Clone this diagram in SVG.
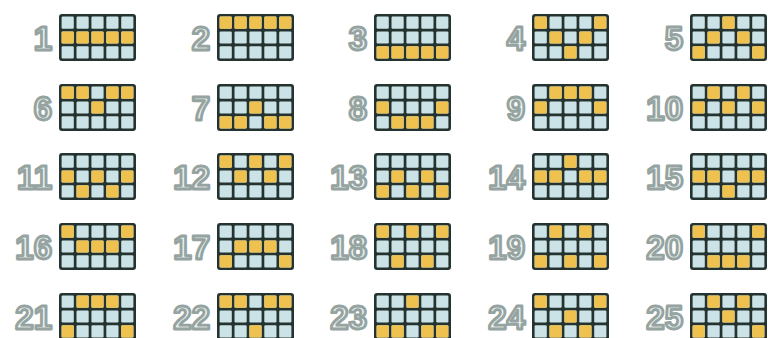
<svg xmlns="http://www.w3.org/2000/svg" xmlns:xlink="http://www.w3.org/1999/xlink" width="768" height="338" viewBox="0 0 768 338">
<style>
.n{font-family:"Liberation Sans",Arial,sans-serif;font-weight:bold;font-size:33px;fill:#eaf2f0;stroke:#95a3a1;stroke-width:2.8;stroke-linejoin:round;text-anchor:end}
.o{fill:#efc14f}
.b{fill:#cbe3e6}
</style>
<defs>
<rect id="c" width="12.2" height="12.1" rx="1.2"/>
<g id="base">
<rect width="77" height="47" rx="3" fill="#24332f"/>
<use href="#c" class="b" x="2.6" y="2.6"/><use href="#c" class="b" x="17.5" y="2.6"/><use href="#c" class="b" x="32.4" y="2.6"/><use href="#c" class="b" x="47.3" y="2.6"/><use href="#c" class="b" x="62.2" y="2.6"/>
<use href="#c" class="b" x="2.6" y="17.45"/><use href="#c" class="b" x="17.5" y="17.45"/><use href="#c" class="b" x="32.4" y="17.45"/><use href="#c" class="b" x="47.3" y="17.45"/><use href="#c" class="b" x="62.2" y="17.45"/>
<use href="#c" class="b" x="2.6" y="32.3"/><use href="#c" class="b" x="17.5" y="32.3"/><use href="#c" class="b" x="32.4" y="32.3"/><use href="#c" class="b" x="47.3" y="32.3"/><use href="#c" class="b" x="62.2" y="32.3"/>
</g>
</defs>
<rect width="768" height="338" fill="#ffffff"/>

<g id="p1"><text class="n" x="52" y="50">1</text><g transform="translate(59,14)"><use href="#base"/>
<use href="#c" class="o" x="2.6" y="17.45"/><use href="#c" class="o" x="17.5" y="17.45"/><use href="#c" class="o" x="32.4" y="17.45"/><use href="#c" class="o" x="47.3" y="17.45"/><use href="#c" class="o" x="62.2" y="17.45"/></g></g>

<g id="p2"><text class="n" x="210" y="50">2</text><g transform="translate(217,14)"><use href="#base"/>
<use href="#c" class="o" x="2.6" y="2.6"/><use href="#c" class="o" x="17.5" y="2.6"/><use href="#c" class="o" x="32.4" y="2.6"/><use href="#c" class="o" x="47.3" y="2.6"/><use href="#c" class="o" x="62.2" y="2.6"/></g></g>

<g id="p3"><text class="n" x="367" y="50">3</text><g transform="translate(374,14)"><use href="#base"/>
<use href="#c" class="o" x="2.6" y="32.3"/><use href="#c" class="o" x="17.5" y="32.3"/><use href="#c" class="o" x="32.4" y="32.3"/><use href="#c" class="o" x="47.3" y="32.3"/><use href="#c" class="o" x="62.2" y="32.3"/></g></g>

<g id="p4"><text class="n" x="525" y="50">4</text><g transform="translate(532,14)"><use href="#base"/>
<use href="#c" class="o" x="2.6" y="2.6"/><use href="#c" class="o" x="62.2" y="2.6"/><use href="#c" class="o" x="17.5" y="17.45"/><use href="#c" class="o" x="47.3" y="17.45"/><use href="#c" class="o" x="32.4" y="32.3"/></g></g>

<g id="p5"><text class="n" x="683" y="50">5</text><g transform="translate(690,14)"><use href="#base"/>
<use href="#c" class="o" x="32.4" y="2.6"/><use href="#c" class="o" x="17.5" y="17.45"/><use href="#c" class="o" x="47.3" y="17.45"/><use href="#c" class="o" x="2.6" y="32.3"/><use href="#c" class="o" x="62.2" y="32.3"/></g></g>

<g id="p6"><text class="n" x="52" y="120">6</text><g transform="translate(59,84)"><use href="#base"/>
<use href="#c" class="o" x="2.6" y="2.6"/><use href="#c" class="o" x="17.5" y="2.6"/><use href="#c" class="o" x="47.3" y="2.6"/><use href="#c" class="o" x="62.2" y="2.6"/><use href="#c" class="o" x="32.4" y="17.45"/></g></g>

<g id="p7"><text class="n" x="210" y="120">7</text><g transform="translate(217,84)"><use href="#base"/>
<use href="#c" class="o" x="32.4" y="17.45"/><use href="#c" class="o" x="2.6" y="32.3"/><use href="#c" class="o" x="17.5" y="32.3"/><use href="#c" class="o" x="47.3" y="32.3"/><use href="#c" class="o" x="62.2" y="32.3"/></g></g>

<g id="p8"><text class="n" x="367" y="120">8</text><g transform="translate(374,84)"><use href="#base"/>
<use href="#c" class="o" x="2.6" y="17.45"/><use href="#c" class="o" x="62.2" y="17.45"/><use href="#c" class="o" x="17.5" y="32.3"/><use href="#c" class="o" x="32.4" y="32.3"/><use href="#c" class="o" x="47.3" y="32.3"/></g></g>

<g id="p9"><text class="n" x="525" y="120">9</text><g transform="translate(532,84)"><use href="#base"/>
<use href="#c" class="o" x="17.5" y="2.6"/><use href="#c" class="o" x="32.4" y="2.6"/><use href="#c" class="o" x="47.3" y="2.6"/><use href="#c" class="o" x="2.6" y="17.45"/><use href="#c" class="o" x="62.2" y="17.45"/></g></g>

<g id="p10"><text class="n" x="683" y="120">10</text><g transform="translate(690,84)"><use href="#base"/>
<use href="#c" class="o" x="17.5" y="2.6"/><use href="#c" class="o" x="47.3" y="2.6"/><use href="#c" class="o" x="2.6" y="17.45"/><use href="#c" class="o" x="32.4" y="17.45"/><use href="#c" class="o" x="62.2" y="17.45"/></g></g>

<g id="p11"><text class="n" x="52" y="189">11</text><g transform="translate(59,153)"><use href="#base"/>
<use href="#c" class="o" x="2.6" y="17.45"/><use href="#c" class="o" x="32.4" y="17.45"/><use href="#c" class="o" x="62.2" y="17.45"/><use href="#c" class="o" x="17.5" y="32.3"/><use href="#c" class="o" x="47.3" y="32.3"/></g></g>

<g id="p12"><text class="n" x="210" y="189">12</text><g transform="translate(217,153)"><use href="#base"/>
<use href="#c" class="o" x="2.6" y="2.6"/><use href="#c" class="o" x="32.4" y="2.6"/><use href="#c" class="o" x="62.2" y="2.6"/><use href="#c" class="o" x="17.5" y="17.45"/><use href="#c" class="o" x="47.3" y="17.45"/></g></g>

<g id="p13"><text class="n" x="367" y="189">13</text><g transform="translate(374,153)"><use href="#base"/>
<use href="#c" class="o" x="17.5" y="17.45"/><use href="#c" class="o" x="47.3" y="17.45"/><use href="#c" class="o" x="2.6" y="32.3"/><use href="#c" class="o" x="32.4" y="32.3"/><use href="#c" class="o" x="62.2" y="32.3"/></g></g>

<g id="p14"><text class="n" x="525" y="189">14</text><g transform="translate(532,153)"><use href="#base"/>
<use href="#c" class="o" x="32.4" y="2.6"/><use href="#c" class="o" x="2.6" y="17.45"/><use href="#c" class="o" x="17.5" y="17.45"/><use href="#c" class="o" x="47.3" y="17.45"/><use href="#c" class="o" x="62.2" y="17.45"/></g></g>

<g id="p15"><text class="n" x="683" y="189">15</text><g transform="translate(690,153)"><use href="#base"/>
<use href="#c" class="o" x="2.6" y="17.45"/><use href="#c" class="o" x="17.5" y="17.45"/><use href="#c" class="o" x="47.3" y="17.45"/><use href="#c" class="o" x="62.2" y="17.45"/><use href="#c" class="o" x="32.4" y="32.3"/></g></g>

<g id="p16"><text class="n" x="52" y="259">16</text><g transform="translate(59,223)"><use href="#base"/>
<use href="#c" class="o" x="2.6" y="2.6"/><use href="#c" class="o" x="62.2" y="2.6"/><use href="#c" class="o" x="17.5" y="17.45"/><use href="#c" class="o" x="32.4" y="17.45"/><use href="#c" class="o" x="47.3" y="17.45"/></g></g>

<g id="p17"><text class="n" x="210" y="259">17</text><g transform="translate(217,223)"><use href="#base"/>
<use href="#c" class="o" x="17.5" y="17.45"/><use href="#c" class="o" x="32.4" y="17.45"/><use href="#c" class="o" x="47.3" y="17.45"/><use href="#c" class="o" x="2.6" y="32.3"/><use href="#c" class="o" x="62.2" y="32.3"/></g></g>

<g id="p18"><text class="n" x="367" y="259">18</text><g transform="translate(374,223)"><use href="#base"/>
<use href="#c" class="o" x="2.6" y="2.6"/><use href="#c" class="o" x="32.4" y="2.6"/><use href="#c" class="o" x="62.2" y="2.6"/><use href="#c" class="o" x="17.5" y="32.3"/><use href="#c" class="o" x="47.3" y="32.3"/></g></g>

<g id="p19"><text class="n" x="525" y="259">19</text><g transform="translate(532,223)"><use href="#base"/>
<use href="#c" class="o" x="17.5" y="2.6"/><use href="#c" class="o" x="47.3" y="2.6"/><use href="#c" class="o" x="2.6" y="32.3"/><use href="#c" class="o" x="32.4" y="32.3"/><use href="#c" class="o" x="62.2" y="32.3"/></g></g>

<g id="p20"><text class="n" x="683" y="259">20</text><g transform="translate(690,223)"><use href="#base"/>
<use href="#c" class="o" x="2.6" y="2.6"/><use href="#c" class="o" x="62.2" y="2.6"/><use href="#c" class="o" x="17.5" y="32.3"/><use href="#c" class="o" x="32.4" y="32.3"/><use href="#c" class="o" x="47.3" y="32.3"/></g></g>

<g id="p21"><text class="n" x="52" y="329">21</text><g transform="translate(59,293)"><use href="#base"/>
<use href="#c" class="o" x="17.5" y="2.6"/><use href="#c" class="o" x="32.4" y="2.6"/><use href="#c" class="o" x="47.3" y="2.6"/><use href="#c" class="o" x="2.6" y="32.3"/><use href="#c" class="o" x="62.2" y="32.3"/></g></g>

<g id="p22"><text class="n" x="210" y="329">22</text><g transform="translate(217,293)"><use href="#base"/>
<use href="#c" class="o" x="2.6" y="2.6"/><use href="#c" class="o" x="17.5" y="2.6"/><use href="#c" class="o" x="47.3" y="2.6"/><use href="#c" class="o" x="62.2" y="2.6"/><use href="#c" class="o" x="32.4" y="32.3"/></g></g>

<g id="p23"><text class="n" x="367" y="329">23</text><g transform="translate(374,293)"><use href="#base"/>
<use href="#c" class="o" x="32.4" y="2.6"/><use href="#c" class="o" x="2.6" y="32.3"/><use href="#c" class="o" x="17.5" y="32.3"/><use href="#c" class="o" x="47.3" y="32.3"/><use href="#c" class="o" x="62.2" y="32.3"/></g></g>

<g id="p24"><text class="n" x="525" y="329">24</text><g transform="translate(532,293)"><use href="#base"/>
<use href="#c" class="o" x="2.6" y="2.6"/><use href="#c" class="o" x="62.2" y="2.6"/><use href="#c" class="o" x="32.4" y="17.45"/><use href="#c" class="o" x="17.5" y="32.3"/><use href="#c" class="o" x="47.3" y="32.3"/></g></g>

<g id="p25"><text class="n" x="683" y="329">25</text><g transform="translate(690,293)"><use href="#base"/>
<use href="#c" class="o" x="17.5" y="2.6"/><use href="#c" class="o" x="47.3" y="2.6"/><use href="#c" class="o" x="32.4" y="17.45"/><use href="#c" class="o" x="2.6" y="32.3"/><use href="#c" class="o" x="62.2" y="32.3"/></g></g>
</svg>
